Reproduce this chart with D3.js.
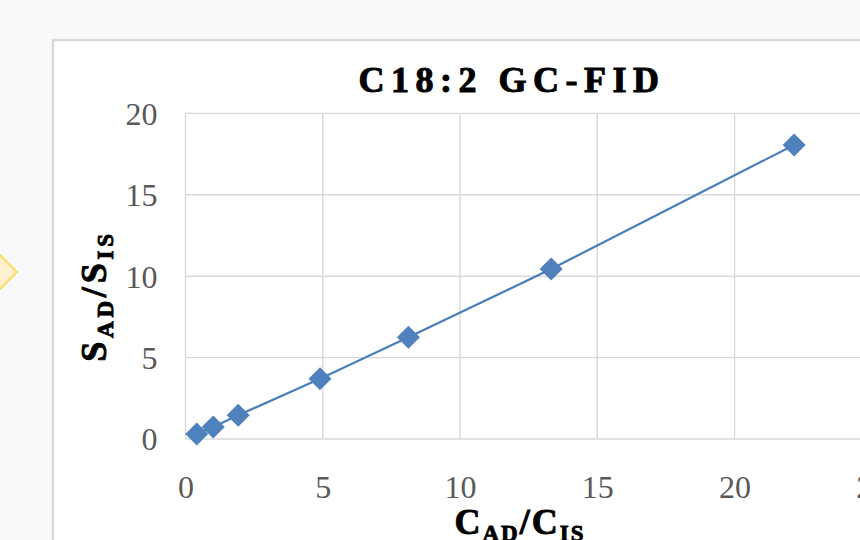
<!DOCTYPE html>
<html><head><meta charset="utf-8">
<script src="https://cdn.jsdelivr.net/npm/d3@7"></script>
<style>
html,body{margin:0;padding:0;background:#f8f9fb;}
svg{display:block;}
</style></head>
<body>
<svg id="chart" width="860" height="540"></svg>
<script>
// ---- data ----
const xValues = [0.41, 1.01, 1.92, 4.90, 8.12, 13.32, 22.17];
const yValues = [0.31, 0.74, 1.46, 3.70, 6.25, 10.44, 18.06];
const xTicks = [0, 5, 10, 15, 20, 25];
const yTicks = [0, 5, 10, 15, 20];
const chartTitle = "C18:2 GC-FID";

const svg = d3.select("#chart");

// decorative yellow diamond shape at the far left (partially visible)
svg.append("path")
  .attr("d", "M-43,272 L-13,242 L17,272 L-13,302 Z")
  .attr("fill", "#fdf2d0").attr("stroke", "#ffd966").attr("stroke-width", 2);

// chart area
svg.append("rect").attr("x", 53).attr("y", 40).attr("width", 920).attr("height", 560)
  .attr("fill", "#ffffff").attr("stroke", "#d9d9d9").attr("stroke-width", 2.5);

const x = d3.scaleLinear().domain([0, 25]).range([185.5, 871.8]);
const y = d3.scaleLinear().domain([0, 20]).range([439, 113.4]);

// gridlines
const g = svg.append("g");
g.selectAll(".vg").data(xTicks).join("line")
  .attr("x1", d => x(d)).attr("x2", d => x(d))
  .attr("y1", y(20)).attr("y2", y(0))
  .attr("stroke", "#d9d9d9").attr("stroke-width", 1.4);
g.selectAll(".hg").data(yTicks).join("line")
  .attr("x1", x(0)).attr("x2", x(25))
  .attr("y1", d => y(d)).attr("y2", d => y(d))
  .attr("stroke", "#d9d9d9").attr("stroke-width", 1.4);

// axes (labels only)
const xAxis = svg.append("g").attr("transform", `translate(0,${y(0)})`)
  .call(d3.axisBottom(x).tickValues(xTicks).tickSize(0).tickPadding(36).tickFormat(d3.format("d")));
const yAxis = svg.append("g").attr("transform", `translate(${x(0)},0)`)
  .call(d3.axisLeft(y).tickValues(yTicks).tickSize(0).tickPadding(28).tickFormat(d3.format("d")));
[xAxis, yAxis].forEach(a => {
  a.select(".domain").remove();
  a.selectAll("text").attr("font-family", "'Liberation Serif', serif")
    .attr("font-size", 32).attr("fill", "#595959");
});
yAxis.selectAll("text").attr("dy", "0.34em");
xAxis.selectAll("text").attr("dy", "0.34em").attr("y", 48);

// series line
const pts = xValues.map((v, i) => [v, yValues[i]]);
svg.append("path").datum(pts)
  .attr("d", d3.line().x(d => x(d[0])).y(d => y(d[1])))
  .attr("fill", "none").attr("stroke", "#4a7ebb").attr("stroke-width", 2.2);

// diamond markers
const sym = d3.symbol().type(d3.symbolSquare).size(265);
svg.selectAll(".mk").data(pts).join("path")
  .attr("d", sym)
  .attr("transform", d => `translate(${x(d[0])},${y(d[1])}) rotate(45)`)
  .attr("fill", "#4f81bd");

// title
svg.append("text").attr("x", 512).attr("y", 92)
  .attr("text-anchor", "middle")
  .attr("font-family", "'Liberation Serif', serif").attr("font-weight", "bold")
  .attr("font-size", 36).attr("letter-spacing", 6.5).attr("fill", "#000")
  .attr("stroke", "#000").attr("stroke-width", 1.0)
  .text(chartTitle);

// axis titles with subscripts
function subTitle(sel, spacing, main1, sub1, main2, sub2) {
  sel.attr("font-family", "'Liberation Serif', serif").attr("font-weight", "bold")
    .attr("fill", "#000").attr("stroke", "#000").attr("stroke-width", 0.9)
    .attr("font-size", 36).attr("text-anchor", "middle")
    .attr("letter-spacing", spacing);
  sel.append("tspan").text(main1);
  sel.append("tspan").attr("font-size", 23).attr("dy", 7).text(sub1);
  sel.append("tspan").attr("dy", -7).text("/" + main2);
  sel.append("tspan").attr("font-size", 23).attr("dy", 7).text(sub2);
}
subTitle(svg.append("text").attr("transform", "translate(106,296) rotate(-90)"), 3.8, "S", "AD", "S", "IS");
subTitle(svg.append("text").attr("x", 520).attr("y", 534), 2, "C", "AD", "C", "IS");
</script>
</body></html>
